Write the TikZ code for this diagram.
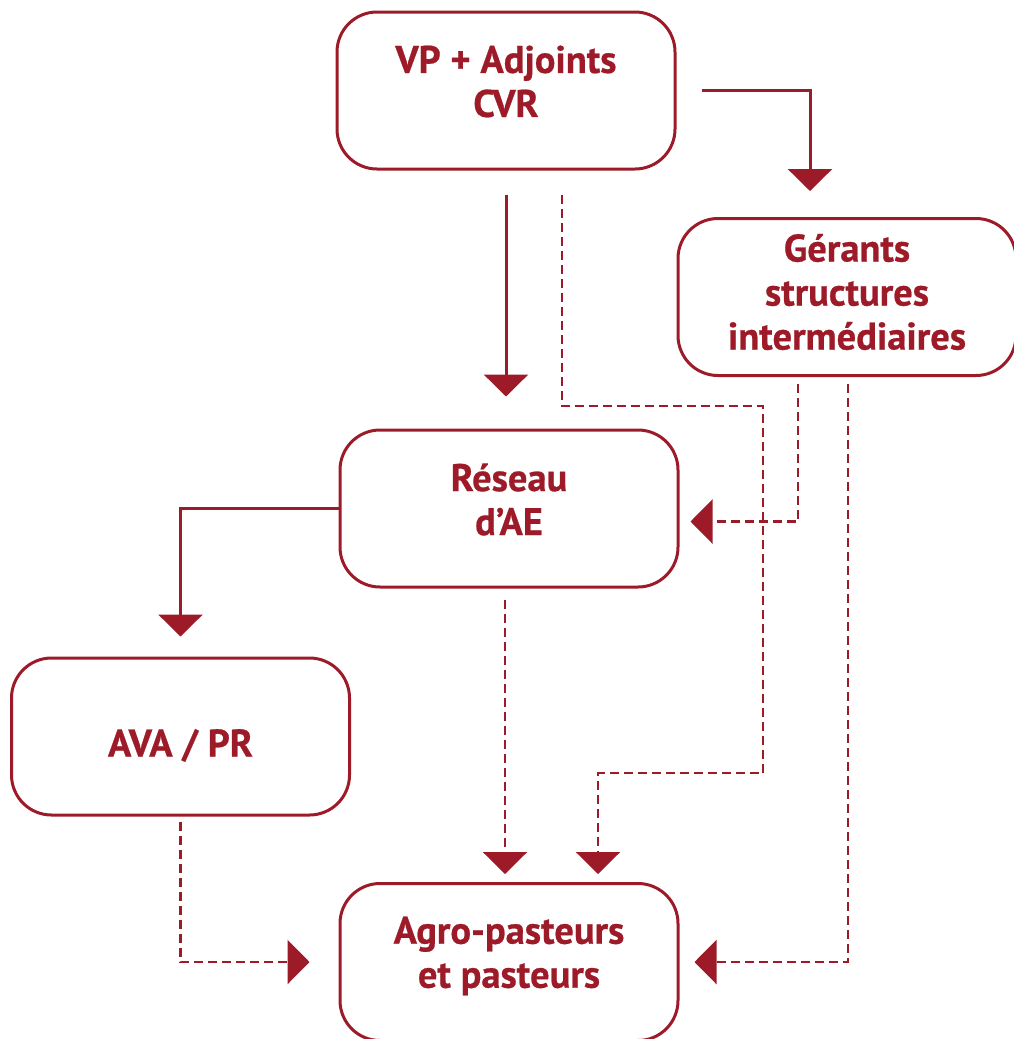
\documentclass[tikz,border=0pt]{standalone}
\usepackage{fontspec}
\setmainfont{PT Sans}[BoldFeatures={FakeBold=0.6}]
\usepackage{xcolor}
\usepackage{tikz}
\usetikzlibrary{calc, arrows.meta, positioning}

\definecolor{bordeaux}{RGB}{157,27,40}

\begin{document}
\begin{tikzpicture}[x=1pt, y=-1pt]
		\tikzstyle{box} = [draw=bordeaux, line width=3pt, rounded corners=40pt, minimum width=338pt, minimum height=157pt, inner sep=0pt]
		\tikzstyle{txt} = [align=center, text=bordeaux, inner sep=0pt, font=\fontsize{38.5}{44}\selectfont\bfseries]
		\tikzstyle{plain} = [draw=bordeaux, line width=3pt, -{Triangle[width=44pt, length=22pt]}, color=bordeaux]
		\tikzstyle{dashlink} = [plain, line width=2.6pt, dash pattern=on 9pt off 5pt]

		\useasboundingbox (0,0) rectangle (1013,1039);

		\node[box] 	at (506, 90.5) 		(vp) 	{};
		\node[box] 	at (847, 297)		(ger) 	{};
		\node[box] 	at (509, 508.5)		(res) 	{};
		\node[box]	at (180.5, 736.5)	(ava)	{};
		\node[box]	at (509, 962)		(agro)	{};

		\node[txt, yshift=9pt]	at (vp)		(vptext)	{VP + Adjoints\\CVR};
		\node[txt, yshift=5pt]	at (ger)	(gertext)	{Gérants\\structures\\intermédiaires};
		\node[txt, yshift=9pt]	at (res)	(restext)	{Réseau\\d’AE};
		\node[txt, yshift=-9pt]	at (ava)	(avatext)	{AVA / PR};
		\node[txt, yshift=6pt]	at (agro)	(agrotext)	{Agro-pasteurs\\et pasteurs};

		\coordinate (turn1) at (763, 406);
		\coordinate (turn2) at (598, 773);

		% solid links
		\draw[plain, shorten <=25pt, shorten >=26pt] (vp.east) -| ([xshift=-37pt]ger.north);
		\draw[plain, shorten <=24pt, shorten >=32pt] (vp.south) -- (vp.south |- res.north);
		\draw[plain, shorten >=20pt] (res.west) -| (ava.north);

		% dashed links
		\draw[dashlink, shorten <=24pt, shorten >=8pt] ([xshift=56pt]vp.south) |- (turn1) |- (turn2) -- (turn2 |- agro.north);
		\draw[dashlink, shorten <=7pt, shorten >=11pt] ([xshift=-49pt]ger.south) |- ([yshift=-13pt]res.east);
		\draw[dashlink, shorten <=7pt, shorten >=15pt] ([xshift=1pt]ger.south) |- (agro.east);
		\draw[dashlink, shorten <=11pt, shorten >=8pt] ([xshift=-4pt]res.south) -- ([xshift=-4pt]res.south |- agro.north);
		\draw[dashlink, shorten <=5pt, shorten >=29pt] (ava.south) |- (agro.west);
	\end{tikzpicture}
\end{document}
